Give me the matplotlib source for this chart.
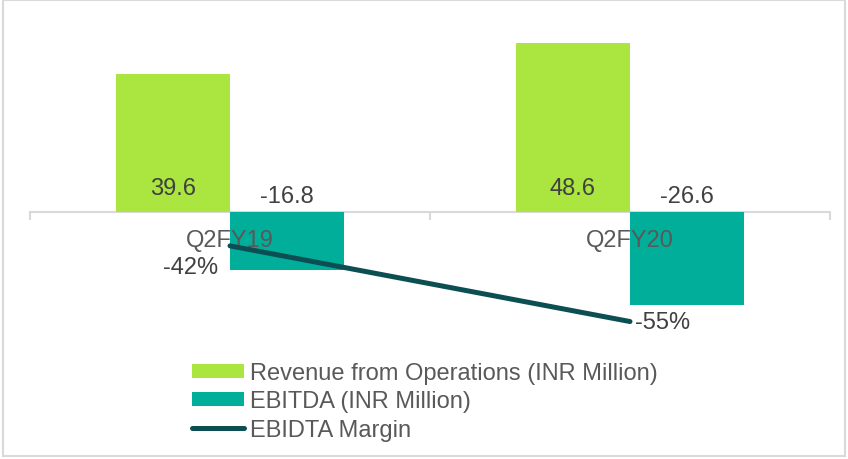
import matplotlib.pyplot as plt
from matplotlib.patches import Rectangle
import numpy as np

plt.rcParams['font.family'] = ['Liberation Sans', 'DejaVu Sans']

# data
categories = ['Q2FY19', 'Q2FY20']
revenue = [39.6, 48.6]
ebitda = [-16.8, -26.6]
margin = [-0.42, -0.55]
series_names = ['Revenue from Operations (INR Million)',
                'EBITDA (INR Million)',
                'EBIDTA Margin']

GREEN = '#ABE540'
TEAL = '#00AE9A'
DARK = '#0B4F53'
GRID = '#D9D9D9'
LABEL = '#404040'
CAT = '#595959'


def _draw():
    fig = plt.figure(figsize=(8.48, 4.6), dpi=100)
    W, H = 848, 460
    # axes from x=30..830 px, y=12..340 px
    ax = fig.add_axes([30 / W, 1 - 340 / H, 800 / W, 328 / H])
    ax2 = ax.twinx()

    x = np.arange(len(categories))
    bw = 0.286
    b1 = ax.bar(x - bw / 2, revenue, bw, color=GREEN, zorder=2, label=series_names[0])
    b2 = ax.bar(x + bw / 2, ebitda, bw, color=TEAL, zorder=2, label=series_names[1])

    ax.set_xlim(-0.5, 1.5)
    ax.set_ylim(-36.5, 57.8)

    for s in ['top', 'left', 'right']:
        ax.spines[s].set_visible(False)
    ax.spines['bottom'].set_position(('data', 0))
    ax.spines['bottom'].set_color(GRID)
    ax.spines['bottom'].set_linewidth(1.5)
    ax.spines['bottom'].set_zorder(1)
    ax.set_yticks([])
    ax.set_xticks([-0.5, 0.5, 1.5])
    ax.set_xticklabels([])
    ax.tick_params(axis='x', length=5.8, width=1.5, color=GRID, direction='out')

    for i, cat in enumerate(categories):
        ax.annotate(cat, (i, 0), xytext=(0, -28), textcoords='offset pixels',
                    ha='center', va='center', fontsize=17, color=CAT, zorder=3)

    for xi, v in zip(x - bw / 2, revenue):
        ax.annotate(f'{v:.1f}', (xi, 0), xytext=(0, 24), textcoords='offset pixels',
                    ha='center', va='center', fontsize=17, color=LABEL, zorder=3)
    for xi, v in zip(x + bw / 2, ebitda):
        ax.annotate(f'{v:.1f}', (xi, 0), xytext=(0, 16.5), textcoords='offset pixels',
                    ha='center', va='center', fontsize=17, color=LABEL, zorder=3)

    ln, = ax2.plot(x, margin, color=DARK, lw=3.6, solid_capstyle='round',
                   label=series_names[2])
    ax2.set_ylim(-0.580, -0.0165)
    ax2.axis('off')

    offsets = [(-12, -21, 'right'), (5, 0, 'left')]
    for xi, v, (dx, dy, ha) in zip(x, margin, offsets):
        ax2.annotate(f'{v * 100:.0f}%', (xi, v), xytext=(dx, dy), textcoords='offset pixels',
                     ha=ha, va='center', fontsize=17, color=LABEL)

    fig.legend(handles=[b1, b2, ln], labels=series_names, loc='center',
               bbox_to_anchor=(425 / W, 1 - 402.5 / H), frameon=False, fontsize=17,
               labelcolor=CAT, handlelength=2.2, handleheight=0.55,
               handletextpad=0.25, labelspacing=0.27, borderpad=0)

    fig.patches.append(Rectangle((3 / W, 1 - 457 / H), 842 / W, 456 / H,
                                 transform=fig.transFigure, fill=False,
                                 edgecolor=GRID, lw=1.5))

    fig.savefig('out.png', dpi=100)


_draw()
